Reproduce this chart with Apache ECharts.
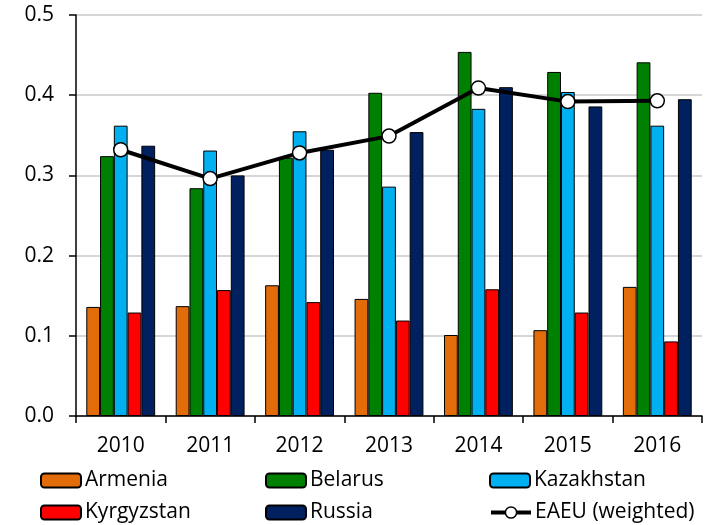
<!DOCTYPE html>
<html>
<head>
<meta charset="utf-8">
<script src="https://cdn.jsdelivr.net/npm/echarts@6/dist/echarts.min.js"></script>
<style>html,body{margin:0;padding:0;background:#fff}#c{width:715px;height:525px}</style>
</head>
<body>
<div id="c"></div>
<script>
const years = ['2010','2011','2012','2013','2014','2015','2016'];
const armenia    = [0.136, 0.137, 0.163, 0.146, 0.101, 0.107, 0.161];
const belarus    = [0.324, 0.284, 0.322, 0.403, 0.454, 0.429, 0.441];
const kazakhstan = [0.362, 0.331, 0.355, 0.286, 0.383, 0.404, 0.362];
const kyrgyzstan = [0.129, 0.157, 0.142, 0.119, 0.158, 0.129, 0.093];
const russia     = [0.337, 0.300, 0.332, 0.354, 0.410, 0.386, 0.395];
const eaeu       = [0.332, 0.296, 0.328, 0.349, 0.409, 0.392, 0.393];
const yTicks = [0, 0.1, 0.2, 0.3, 0.4, 0.5];

const FONT = 'Open Sans';
const barSeries = [
  ['Armenia', armenia, '#E36C0A'],
  ['Belarus', belarus, '#008000'],
  ['Kazakhstan', kazakhstan, '#00B0F0'],
  ['Kyrgyzstan', kyrgyzstan, '#FF0000'],
  ['Russia', russia, '#002060']
].map(([name, data, color]) => ({
  name, type: 'bar', data,
  barGap: '0%', barCategoryGap: '23%',
  itemStyle: { color, borderColor: '#000', borderWidth: 1 },
  emphasis: { disabled: true }
}));

const legendPos = [
  ['Armenia', 40, 470], ['Belarus', 265, 470], ['Kazakhstan', 489, 470],
  ['Kyrgyzstan', 40, 502], ['Russia', 265, 502], ['EAEU (weighted)', 489, 502]
];
const legends = legendPos.map(([name, left, top]) => {
  const l = {
    data: [name], left, top, orient: 'horizontal',
    itemWidth: 40, itemHeight: 14, itemGap: 4, padding: 0,
    textStyle: { fontFamily: FONT, fontSize: 21, color: '#000', padding: [0,0,0,-1] },
    selectedMode: false
  };
  if (name.startsWith('EAEU')) {
    l.lineStyle = { width: 4, color: '#000' };
    l.itemStyle = { color: '#fff', borderColor: '#000', borderWidth: 1.5 };
  }
  return l;
});

const chart = echarts.init(document.getElementById('c'), null, { renderer: 'canvas' });
chart.setOption({
  animation: false,
  textStyle: { fontFamily: FONT },
  grid: { left: 76, right: 13, top: 15, bottom: 109, containLabel: false },
  legend: legends,
  xAxis: {
    type: 'category', data: years, boundaryGap: true,
    axisLine: { lineStyle: { color: '#000', width: 1.5 } },
    axisTick: { show: true, length: 7, lineStyle: { color: '#000', width: 1.5 } },
    axisLabel: { fontFamily: FONT, fontSize: 21, color: '#000', margin: 20 }
  },
  yAxis: {
    type: 'value', min: yTicks[0], max: yTicks[yTicks.length-1], interval: 0.1,
    axisLine: { show: true, lineStyle: { color: '#000', width: 1.5 } },
    axisTick: { show: true, length: 7, lineStyle: { color: '#000', width: 1.5 } },
    splitLine: { lineStyle: { color: '#C8C8C8', width: 1.5 } },
    axisLabel: { fontFamily: FONT, fontSize: 21, color: '#000', margin: 22,
      formatter: v => v.toFixed(1) }
  },
  series: [...barSeries, {
    name: 'EAEU (weighted)', type: 'line', data: eaeu, z: 5,
    symbol: 'circle', symbolSize: 14,
    lineStyle: { color: '#000', width: 4 },
    itemStyle: { color: '#fff', borderColor: '#000', borderWidth: 1.5 },
    emphasis: { disabled: true }
  }]
});
</script>
</body>
</html>
